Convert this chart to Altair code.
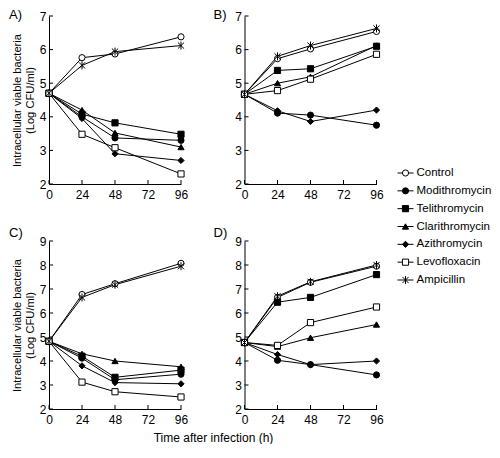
import altair as alt
import pandas as pd

FONT = "Liberation Sans"

hours = [0, 24, 48, 96]
series = ["Control", "Modithromycin", "Telithromycin", "Clarithromycin",
          "Azithromycin", "Levofloxacin", "Ampicillin"]

# Panel A
a_control = [4.70, 5.76, 5.87, 6.38]
a_modi = [4.70, 4.00, 3.37, 3.30]
a_teli = [4.70, 4.08, 3.82, 3.48]
a_clari = [4.70, 4.20, 3.52, 3.10]
a_azi = [4.70, 3.95, 2.90, 2.70]
a_levo = [4.70, 3.48, 3.08, 2.30]
a_amp = [4.70, 5.53, 5.94, 6.12]

# Panel B
b_control = [4.67, 5.73, 6.02, 6.54]
b_modi = [4.67, 4.11, 4.05, 3.75]
b_teli = [4.67, 5.38, 5.43, 6.10]
b_clari = [4.67, 5.00, 5.19, 6.12]
b_azi = [4.67, 4.18, 3.86, 4.20]
b_levo = [4.67, 4.78, 5.12, 5.86]
b_amp = [4.67, 5.80, 6.12, 6.63]

# Panel C
c_control = [4.82, 6.77, 7.22, 8.07]
c_modi = [4.82, 4.12, 3.22, 3.45]
c_teli = [4.82, 4.20, 3.32, 3.62]
c_clari = [4.82, 4.30, 4.00, 3.76]
c_azi = [4.82, 3.80, 3.10, 3.05]
c_levo = [4.82, 3.12, 2.72, 2.50]
c_amp = [4.82, 6.65, 7.18, 7.95]

# Panel D
d_control = [4.77, 6.65, 7.28, 7.95]
d_modi = [4.77, 4.03, 3.85, 3.42]
d_teli = [4.77, 6.45, 6.65, 7.60]
d_clari = [4.77, 4.60, 4.97, 5.52]
d_azi = [4.77, 4.27, 3.85, 4.00]
d_levo = [4.77, 4.65, 5.60, 6.25]
d_amp = [4.77, 6.70, 7.30, 8.00]

x_tick_values = [0, 24, 48, 72, 96]
y_ticks_ab = [2, 3, 4, 5, 6, 7]
y_ticks_cd = [2, 3, 4, 5, 6, 7, 8, 9]

shape_range = ["circle", "circle", "square", "triangle-up", "diamond", "square",
               "M-1,-1L1,1M-1,1L1,-1M0,-1.3L0,1.3"]
fill_range = ["white", "black", "black", "black", "black", "white", "black"]

shape_scale = alt.Scale(domain=series, range=shape_range)
fill_scale = alt.Scale(domain=series, range=fill_range)

W = 132
H = 168


def panel(columns, label, ymax, yticks, ytitle, xtitle, label_dx, label_dy):
    rows = []
    for s, vals in zip(series, columns):
        for h, v in zip(hours, vals):
            rows.append({"series": s, "hour": h, "value": v})
    df = pd.DataFrame(rows)

    xaxis_kwargs = dict(values=x_tick_values, ticks=False, grid=False,
                        domainColor="black", domainWidth=1, labelColor="black",
                        labelFont=FONT, labelFontSize=12, labelPadding=5,
                        labelFlush=False, title=None)
    if xtitle:
        xaxis_kwargs.update(title=xtitle, titleX=164, titleY=28,
                            titleBaseline="middle", titleFont=FONT,
                            titleFontSize=12, titleFontWeight="normal",
                            titleColor="black")
    yaxis_kwargs = dict(values=yticks, ticks=False, grid=False,
                        domainColor="black", domainWidth=1, labelColor="black",
                        labelFont=FONT, labelFontSize=12, labelPadding=3,
                        labelFlush=False, title=None)
    if ytitle:
        yaxis_kwargs.update(title=ytitle, titleFont=FONT, titleFontSize=11.2,
                            titleFontWeight="normal", titleColor="black",
                            titlePadding=4, titleLineHeight=13)

    xenc = alt.X("hour:Q", scale=alt.Scale(domain=[0, 96], nice=False),
                 axis=alt.Axis(**xaxis_kwargs))
    yenc = alt.Y("value:Q", scale=alt.Scale(domain=[2, ymax], nice=False),
                 axis=alt.Axis(**yaxis_kwargs))

    base = alt.Chart(df)
    lines = base.mark_line(color="black", strokeWidth=1).encode(
        x=xenc, y=yenc, detail="series:N")
    points = base.mark_point(size=38, opacity=1, stroke="black",
                             strokeWidth=1).encode(
        x=xenc, y=yenc,
        shape=alt.Shape("series:N", scale=shape_scale, legend=None),
        fill=alt.Fill("series:N", scale=fill_scale, legend=None))

    xt = alt.Chart(pd.DataFrame({"hour": x_tick_values})).mark_rule(
        color="black", strokeWidth=1).encode(
        x=xenc, y=alt.value(H - 4), y2=alt.value(H))
    yt = alt.Chart(pd.DataFrame({"value": yticks})).mark_rule(
        color="black", strokeWidth=1).encode(
        y=yenc, x=alt.value(0), x2=alt.value(4))
    lab = alt.Chart(pd.DataFrame({"label": [label]})).mark_text(
        align="left", baseline="middle", font=FONT, fontSize=13,
        color="black").encode(
        text="label:N", x=alt.value(label_dx), y=alt.value(label_dy))

    return alt.layer(lines, points, xt, yt, lab).properties(width=W, height=H)


ytitle = ["Intracellular viable bacteria", "(Log CFU/ml)"]

A = panel([a_control, a_modi, a_teli, a_clari, a_azi, a_levo, a_amp],
          "A)", 7, y_ticks_ab, ytitle, None, -40, -1)
B = panel([b_control, b_modi, b_teli, b_clari, b_azi, b_levo, b_amp],
          "B)", 7, y_ticks_ab, None, None, -31, -1)
C = panel([c_control, c_modi, c_teli, c_clari, c_azi, c_levo, c_amp],
          "C)", 9, y_ticks_cd, ytitle, "Time after infection (h)", -40, -8)
D = panel([d_control, d_modi, d_teli, d_clari, d_azi, d_levo, d_amp],
          "D)", 9, y_ticks_cd, None, None, -31, -8)

# custom legend
leg_df = pd.DataFrame({"series": series, "idx": list(range(len(series)))})
ly = alt.Y("idx:Q", scale=alt.Scale(domain=[0, 6], range=[157.0, 264.0]), axis=None)
leg_base = alt.Chart(leg_df)
leg_rule = leg_base.mark_rule(color="black", strokeWidth=1).encode(
    y=ly, x=alt.value(-42.5), x2=alt.value(-26.5))
leg_pt = leg_base.mark_point(size=38, opacity=1, stroke="black", strokeWidth=1).encode(
    y=ly, x=alt.value(-34.5),
    shape=alt.Shape("series:N", scale=shape_scale, legend=None),
    fill=alt.Fill("series:N", scale=fill_scale, legend=None))
leg_txt = leg_base.mark_text(align="left", baseline="middle", font=FONT,
                             fontSize=11.5, color="black").encode(
    y=ly, x=alt.value(-23.5), text="series:N")
L = alt.layer(leg_rule, leg_pt, leg_txt).properties(width=20, height=H)

chart = alt.concat(A, B, L, C, D, columns=3,
                   spacing={"row": 57, "column": 63.5},
                   bounds="flush").properties(
    padding={"left": 0, "top": 0, "right": 0, "bottom": 0}
).configure_view(stroke="transparent")

chart.save("out.html", embed_options={"renderer": "svg", "actions": False})
